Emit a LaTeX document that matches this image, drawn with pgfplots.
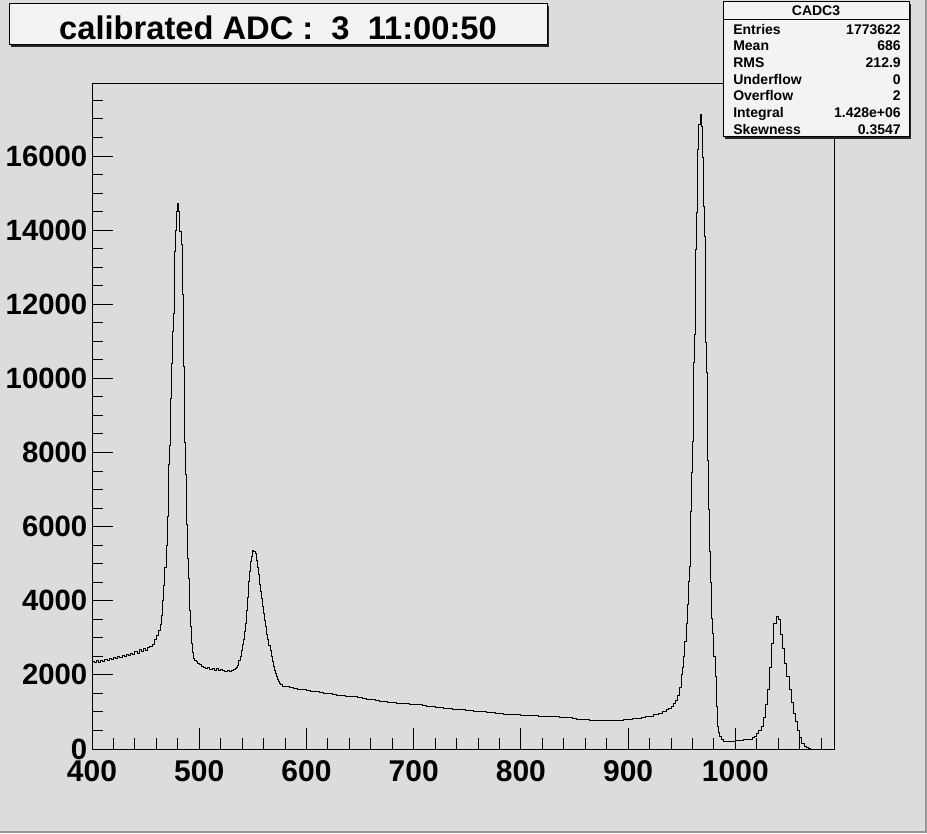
\documentclass[border=0pt]{standalone}
\usepackage{fontspec}
\setmainfont{Liberation Sans}
\usepackage{pgfplots}
\pgfplotsset{compat=1.18}
\usepackage{pgfplotstable}
\definecolor{rootbg}{RGB}{220,220,220}
\definecolor{rootborder}{RGB}{150,150,150}
\definecolor{pavefill}{RGB}{243,243,243}

\pgfplotstableread{
x y
400 2360
402 2330
404 2390
406 2340
408 2400
410 2370
412 2420
414 2390
416 2440
418 2410
420 2470
422 2440
424 2490
426 2460
428 2520
430 2490
432 2550
434 2520
436 2580
438 2560
440 2620
442 2590
444 2680
446 2630
448 2710
450 2670
452 2740
454 2760
456 2830
458 2950
460 3060
462 3200
464 3350
465 3600
466 4000
467 4400
468 4890
469 5500
470 6270
471 7670
472 8200
473 9470
474 10400
475 11270
476 11750
477 13430
478 14000
479 14510
480 14720
481 14510
482 13970
483 13610
484 12260
485 10310
486 8260
487 7400
488 6050
489 5150
490 4610
491 3750
492 3300
493 2850
494 2600
495 2450
496 2400
497 2350
498 2300
500 2270
502 2240
504 2200
506 2180
508 2200
510 2150
512 2170
514 2130
516 2180
518 2130
520 2150
522 2110
524 2090
526 2120
528 2080
530 2120
532 2140
534 2180
535 2200
536 2260
537 2400
538 2490
539 2650
540 2810
541 2950
542 3170
543 3400
544 3750
545 4100
546 4520
547 4800
548 5060
549 5200
550 5370
551 5330
552 5280
553 5100
554 4900
555 4700
556 4450
557 4250
558 4050
559 3850
560 3650
561 3480
562 3300
563 3100
564 2950
565 2800
566 2650
567 2500
568 2350
569 2220
570 2120
571 2030
572 1950
573 1880
574 1820
575 1770
576 1730
578 1700
580 1680
584 1660
588 1645
592 1610
596 1600
600 1585
604 1560
608 1555
612 1535
616 1505
620 1490
624 1465
628 1455
632 1440
636 1425
640 1420
644 1405
648 1385
652 1355
656 1340
660 1325
664 1300
668 1285
672 1270
676 1255
680 1250
684 1235
688 1230
692 1220
696 1210
700 1210
704 1195
708 1170
712 1155
716 1140
720 1125
724 1110
728 1095
732 1090
736 1075
740 1070
744 1060
748 1040
752 1035
756 1020
760 1015
764 1005
768 990
772 975
776 970
780 955
784 945
788 940
792 930
796 925
800 915
804 915
808 905
812 895
816 890
820 880
824 875
828 870
832 865
836 860
840 850
844 840
848 830
852 810
856 800
860 790
864 780
868 770
872 770
876 765
880 765
884 770
888 775
892 780
896 790
900 800
904 815
908 830
912 850
916 870
920 890
924 920
928 960
932 1010
936 1070
938 1100
940 1160
942 1240
944 1320
946 1450
948 1650
950 2000
951 2200
952 2500
953 2900
954 3400
955 3900
956 4520
957 4920
958 6410
959 7450
960 8300
961 10420
962 11180
963 13480
964 14490
965 16180
966 16850
967 17120
968 16800
969 15950
970 14650
971 13830
972 10980
973 10160
974 7790
975 6470
976 5330
977 4500
978 3530
979 3130
980 2500
981 1950
982 1140
983 600
984 450
985 330
987 250
989 210
992 200
996 210
1000 220
1004 230
1008 250
1012 270
1016 300
1018 350
1020 430
1022 500
1024 620
1026 850
1028 1200
1030 1600
1032 2200
1034 2860
1036 3400
1038 3570
1040 3500
1042 3100
1044 2700
1046 2300
1048 1950
1050 1600
1052 1250
1054 950
1056 750
1058 500
1060 300
1062 150
1064 80
1066 35
1068 10
1070 0
}\histdata

\begin{document}
\begin{tikzpicture}[x=0.75pt,y=0.75pt]
\fill[rootbg] (0,0) rectangle (927,833);
\fill[rootborder] (925,0) rectangle (927,833);
\fill[rootborder] (0,0) rectangle (927,2);
\begin{axis}[
  at={(69pt,63pt)}, anchor=south west,
  scale only axis, width=556.5pt, height=499.5pt,
  xmin=400, xmax=1092, ymin=0, ymax=17970,
  axis background/.style={fill=rootbg},
  axis line style={line width=0.75pt, black},
  xtick={400,500,...,1000},
  minor xtick={420,440,...,1080},
  ytick={0,2000,...,16000},
  minor ytick={500,1000,...,17500},
  tick align=inside, xtick pos=bottom, ytick pos=left,
  major tick length=16pt, minor tick length=8.5pt,
  tick style={black, line width=0.75pt},
  ticklabel style={font=\fontsize{22}{22}\selectfont\bfseries},
  xticklabel style={font=\fontsize{22.5}{22.5}\selectfont\bfseries, yshift=-5.5pt},
  /pgf/number format/assume math mode=true,
  /pgf/number format/set thousands separator={},
  scaled ticks=false,
  yticklabel style={xshift=0pt},
]
\addplot[const plot mark left, black, line width=0.7pt] table[x=x,y=y] {\histdata};
\end{axis}
% title box
\fill[black!85] (11,786) rectangle (549,827);
\filldraw[fill=pavefill, draw=black, line width=0.75pt] (9,788) rectangle (547,829);
\node[font=\fontsize{24.5}{24.5}\selectfont\bfseries] at (278,805) {calibrated ADC :\ \ 3\ \ 11:00:50};
% stats box
\fill[black!85] (725,694) rectangle (911,829);
\filldraw[fill=pavefill, draw=black, line width=0.75pt] (723,696) rectangle (909,831);
\draw[black, line width=0.75pt] (723,813) -- (909,813);
\node[font=\fontsize{10.5}{10.5}\selectfont\bfseries, anchor=base, inner sep=0pt] at (816,817) {CADC3};
\begin{scope}[every node/.style={font=\fontsize{10.5}{10.5}\selectfont\bfseries, inner sep=0pt}]
\node[anchor=base west] at (733,798) {Entries};   \node[anchor=base east] at (901,798) {1773622};
\node[anchor=base west] at (733,782) {Mean};      \node[anchor=base east] at (901,782) {686};
\node[anchor=base west] at (733,765) {RMS};       \node[anchor=base east] at (901,765) {212.9};
\node[anchor=base west] at (733,748) {Underflow}; \node[anchor=base east] at (901,748) {0};
\node[anchor=base west] at (733,732) {Overflow};  \node[anchor=base east] at (901,732) {2};
\node[anchor=base west] at (733,715) {Integral};  \node[anchor=base east] at (901,715) {1.428e+06};
\node[anchor=base west] at (733,698.5) {Skewness};  \node[anchor=base east] at (901,698.5) {0.3547};
\end{scope}
\pgfresetboundingbox
\path (0,0) rectangle (927,833);
\end{tikzpicture}
\end{document}
